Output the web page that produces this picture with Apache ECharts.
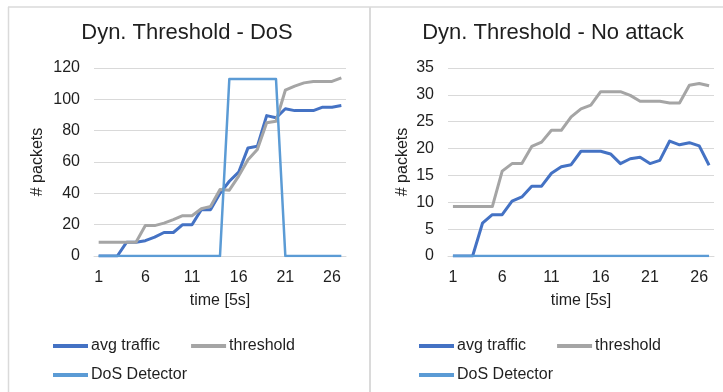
<!DOCTYPE html>
<html>
<head>
<meta charset="utf-8">
<script src="https://cdn.jsdelivr.net/npm/echarts@6/dist/echarts.min.js"></script>
<style>
  html, body { margin: 0; padding: 0; background: #fff; }
  #chart { width: 723px; height: 392px; }
</style>
</head>
<body>
<div id="chart"></div>
<script>
// time [5s] categories
const timeSteps = ['1','2','3','4','5','6','7','8','9','10','11','12','13','14','15','16','17','18','19','20','21','22','23','24','25','26','27'];

// left panel: Dyn. Threshold - DoS
const dosAvgTraffic = [0, 0, 0, 8.8, 8.8, 9.8, 12, 15, 15, 20, 20, 29.6, 29.6, 40, 47.7, 53.5, 69, 70, 89.6, 88.2, 94, 92.8, 92.8, 92.8, 95, 95, 96];
const dosThreshold = [8.8, 8.8, 8.8, 8.8, 8.8, 19.4, 19.4, 21, 23.2, 25.7, 25.7, 30.2, 31.7, 42.4, 42, 51, 61.5, 68, 85, 86, 105.8, 108.4, 110.5, 111.4, 111.4, 111.4, 113.7];
const dosDetector = [0, 0, 0, 0, 0, 0, 0, 0, 0, 0, 0, 0, 0, 0, 113, 113, 113, 113, 113, 113, 0, 0, 0, 0, 0, 0, 0];

// right panel: Dyn. Threshold - No attack
const noAvgTraffic = [0, 0, 0, 6.1, 7.7, 7.7, 10.2, 11, 13, 13, 15.4, 16.6, 17, 19.5, 19.5, 19.5, 19, 17.2, 18.1, 18.4, 17.2, 17.8, 21.4, 20.7, 21.1, 20.5, 16.9];
const noThreshold = [9.2, 9.2, 9.2, 9.2, 9.2, 15.8, 17.2, 17.2, 20.4, 21.2, 23.4, 23.4, 25.9, 27.4, 28.1, 30.6, 30.6, 30.6, 29.9, 28.8, 28.8, 28.8, 28.5, 28.5, 31.8, 32.1, 31.7];
const noDetector = [0, 0, 0, 0, 0, 0, 0, 0, 0, 0, 0, 0, 0, 0, 0, 0, 0, 0, 0, 0, 0, 0, 0, 0, 0, 0, 0];

const FONT = 'Liberation Sans, Arial, sans-serif';
const TEXT = '#1f1f1f';
const GRID_LINE = '#d9d9d9';

const COLORS = {
  avg: '#4472c4',
  thr: '#a5a5a5',
  dos: '#5b9bd5',
};

function xAxisFor(gridIndex) {
  return {
    type: 'category',
    gridIndex: gridIndex,
    data: timeSteps,
    boundaryGap: true,
    name: 'time [5s]',
    nameLocation: 'middle',
    nameGap: 37,
    nameTextStyle: { fontFamily: FONT, fontSize: 16, color: TEXT },
    axisLine: { show: true, lineStyle: { color: GRID_LINE } },
    axisTick: { show: false },
    axisLabel: { interval: 4, margin: 14, fontFamily: FONT, fontSize: 16, color: TEXT },
    splitLine: { show: false },
  };
}

function yAxisFor(gridIndex, max, interval, nameGap) {
  return {
    type: 'value',
    gridIndex: gridIndex,
    min: 0,
    max: max,
    interval: interval,
    name: '# packets',
    nameLocation: 'middle',
    nameGap: nameGap,
    nameTextStyle: { fontFamily: FONT, fontSize: 16, color: TEXT },
    axisLine: { show: false },
    axisTick: { show: false },
    axisLabel: { margin: 14, fontFamily: FONT, fontSize: 16, color: TEXT },
    splitLine: { lineStyle: { color: GRID_LINE, width: 1 } },
  };
}

function lineSeries(name, data, idx, color, width) {
  return {
    name: name,
    type: 'line',
    xAxisIndex: idx,
    yAxisIndex: idx,
    data: data,
    symbol: 'none',
    smooth: false,
    itemStyle: { color: color },
    lineStyle: { color: color, width: width, join: 'round' },
    animation: false,
  };
}

function legendRow(names, left, top) {
  return {
    data: names,
    left: left,
    top: top,
    orient: 'horizontal',
    icon: 'rect',
    itemWidth: 35,
    itemHeight: 4,
    itemGap: 31,
    padding: 0,
    selectedMode: false,
    textStyle: { fontFamily: FONT, fontSize: 16, color: TEXT, padding: [0, 0, 0, -2] },
  };
}

const chart = echarts.init(document.getElementById('chart'));

chart.setOption({
  backgroundColor: '#fff',
  animation: false,
  title: [
    {
      text: 'Dyn. Threshold - DoS',
      left: 187,
      top: 22,
      textAlign: 'center',
      padding: 0,
      textStyle: { fontFamily: FONT, fontSize: 22, fontWeight: 'normal', color: TEXT },
    },
    {
      text: 'Dyn. Threshold - No attack',
      left: 553,
      top: 22,
      textAlign: 'center',
      padding: 0,
      textStyle: { fontFamily: FONT, fontSize: 22, fontWeight: 'normal', color: TEXT },
    },
  ],
  legend: [
    legendRow(['avg traffic', 'threshold'], 53, 338),
    legendRow(['DoS Detector'], 53, 367),
    legendRow(['avg traffic', 'threshold'], 419, 338),
    legendRow(['DoS Detector'], 419, 367),
  ],
  grid: [
    { left: 94, top: 68, width: 252, height: 188 },
    { left: 448, top: 68, width: 266, height: 188 },
  ],
  xAxis: [xAxisFor(0), xAxisFor(1)],
  yAxis: [yAxisFor(0, 120, 20, 48), yAxisFor(1, 35, 5, 37)],
  series: [
    lineSeries('avg traffic', dosAvgTraffic, 0, COLORS.avg, 3),
    lineSeries('threshold', dosThreshold, 0, COLORS.thr, 3),
    lineSeries('DoS Detector', dosDetector, 0, COLORS.dos, 2.5),
    lineSeries('avg traffic', noAvgTraffic, 1, COLORS.avg, 3),
    lineSeries('threshold', noThreshold, 1, COLORS.thr, 3),
    lineSeries('DoS Detector', noDetector, 1, COLORS.dos, 2.5),
  ],
  graphic: [
    // panel frames
    { type: 'line', shape: { x1: 8, y1: 7, x2: 723, y2: 7 }, style: { stroke: '#dadada', lineWidth: 1.5 }, silent: true },
    { type: 'line', shape: { x1: 8.5, y1: 7, x2: 8.5, y2: 392 }, style: { stroke: '#dadada', lineWidth: 1.5 }, silent: true },
    { type: 'line', shape: { x1: 370, y1: 7, x2: 370, y2: 392 }, style: { stroke: '#dadada', lineWidth: 2 }, silent: true },
  ],
});

window.addEventListener('resize', () => chart.resize());
</script>
</body>
</html>
